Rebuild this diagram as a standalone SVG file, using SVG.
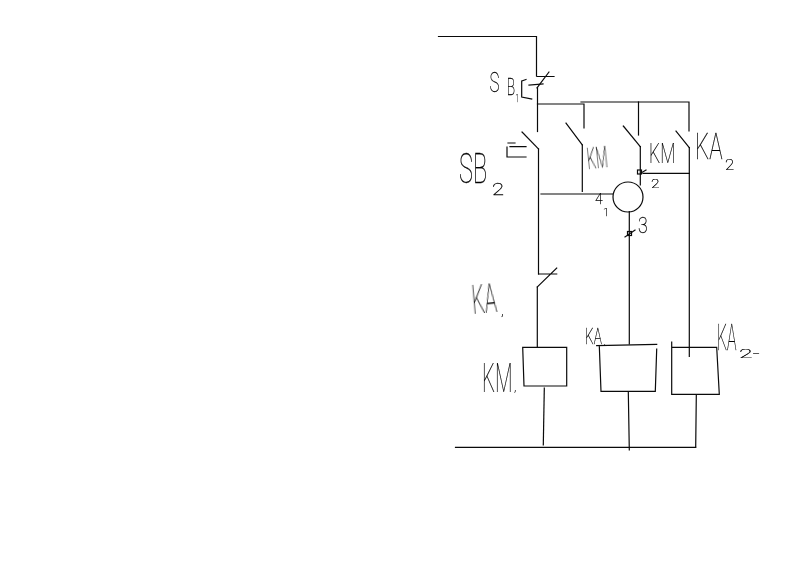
<svg xmlns="http://www.w3.org/2000/svg" width="785" height="564" viewBox="0 0 785 564">
<style>
.w{fill:none;stroke:#0a0a0a;stroke-width:1.2;stroke-linecap:square;stroke-linejoin:miter}
.t{font-family:"Roboto","Liberation Sans",sans-serif;font-weight:100;fill:#000;stroke:#000;stroke-width:.25;filter:url(#gray)}
</style>
<defs><filter id="gray" x="-20%" y="-20%" width="140%" height="140%" color-interpolation-filters="sRGB"><feOffset dx="0" dy="0"/></filter></defs>
<rect width="785" height="564" fill="#fff"/>
<g id="connectors" class="w">
<path d="M438.500 36.500H536.500V76"/>
<path d="M537.500 88V131.500"/>
<path d="M537.500 104H584V128"/>
<path d="M581 102H689V131"/>
<path d="M638.500 102V135"/>
<path d="M538.500 149V274"/>
<path d="M537.300 287V347"/>
<path d="M582.300 145V191.500"/>
<path d="M541 194H612.500"/>
<path d="M640.300 146.700V185"/>
<path d="M643 173.300H689.300"/>
<path d="M689.300 147.700V356.500"/>
<path d="M629.300 211.700V344"/>
<path d="M544.300 388L543.300 445"/>
<path d="M628.300 391.500L629.300 450"/>
<path d="M696.300 395.700L695.700 447"/>
<path d="M455.500 447.300H695.700"/>
</g>
<g id="sb1" class="w">
<path d="M537 76.500H554M549 72L537 88"/>
<path d="M529 85L543 84"/>
<path d="M521.700 81L526 79.500M521.700 81V97L531.700 99"/>
<text class="t" transform="translate(489.500 92) scale(.6 1)" font-size="28">S<tspan dx="12" dy="3" font-size="23">B</tspan><tspan dx="1" dy="7" font-size="10">1</tspan></text>
</g>
<g id="sb2" class="w">
<path d="M522 132L538.500 149"/>
<path d="M508 143H515M510 146.700H526M507 147V157H526"/>
<text class="t" transform="translate(459 183) scale(.56 1)" font-size="42">SB</text>
<text class="t" transform="translate(492 195) scale(1.3 1)" font-size="17">2</text>
</g>
<g id="km-contact-a" class="w">
<path d="M566 123L582.300 145"/>
<text class="t" transform="translate(588 169) rotate(-6) scale(.46 1)" font-size="30">KM</text>
</g>
<g id="km-contact-b" class="w">
<path d="M623.300 126L640.300 146.700"/>
<text class="t" transform="translate(649 163) scale(.63 1)" font-size="28">KM</text>
</g>
<g id="ka2-contact" class="w">
<path d="M676 131L689.300 147.700"/>
<text class="t" transform="translate(695 159) scale(.62 1)" font-size="36">KA</text>
<text class="t" transform="translate(725 170) scale(1.2 1)" font-size="14">2</text>
</g>
<g id="ka1-contact" class="w">
<path d="M538.700 274H556.700M556.700 268L537.300 287"/>
<text class="t" transform="translate(473 314) rotate(-5) scale(.5 1)" font-size="40">KA</text>
<text class="t" x="501" y="315" font-size="14">,</text>
</g>
<g id="relay" class="w">
<circle cx="628" cy="197" r="15"/>
<rect x="637.500" y="170" width="4" height="4"/>
<path d="M641 173L646 170"/>
<rect x="627.500" y="231.500" width="4" height="4"/>
<path d="M625 237L635 230"/>
<text class="t" x="595" y="204" font-size="14">4</text>
<text class="t" x="603" y="216" font-size="11">1</text>
<text class="t" transform="translate(651 188) scale(1.2 1)" font-size="13">2</text>
<text class="t" transform="translate(638 233) scale(.8 1)" font-size="22">3</text>
</g>
<g id="km1-coil" class="w">
<path d="M522.700 347.300H566.700V386H524Z"/>
<text class="t" transform="translate(482 392) scale(.51 1)" font-size="40">KM</text>
<text class="t" x="514" y="391" font-size="12">,</text>
</g>
<g id="ka1-coil" class="w">
<path d="M596.700 345.700L656.700 344.300M599.300 345.700L601 391.300H655.300L656.700 349"/>
<text class="t" transform="translate(585 344) scale(.62 1)" font-size="22">KA</text>
<text class="t" x="604" y="345" font-size="8">,</text>
</g>
<g id="ka2-coil" class="w">
<path d="M671.700 342V394.300H719.300L716.700 347.300H671.700"/>
<text class="t" transform="translate(717 350) scale(.44 1)" font-size="36">KA</text>
<text class="t" transform="translate(739 358) scale(1.9 1)" font-size="13">2-</text>
</g>
</svg>
